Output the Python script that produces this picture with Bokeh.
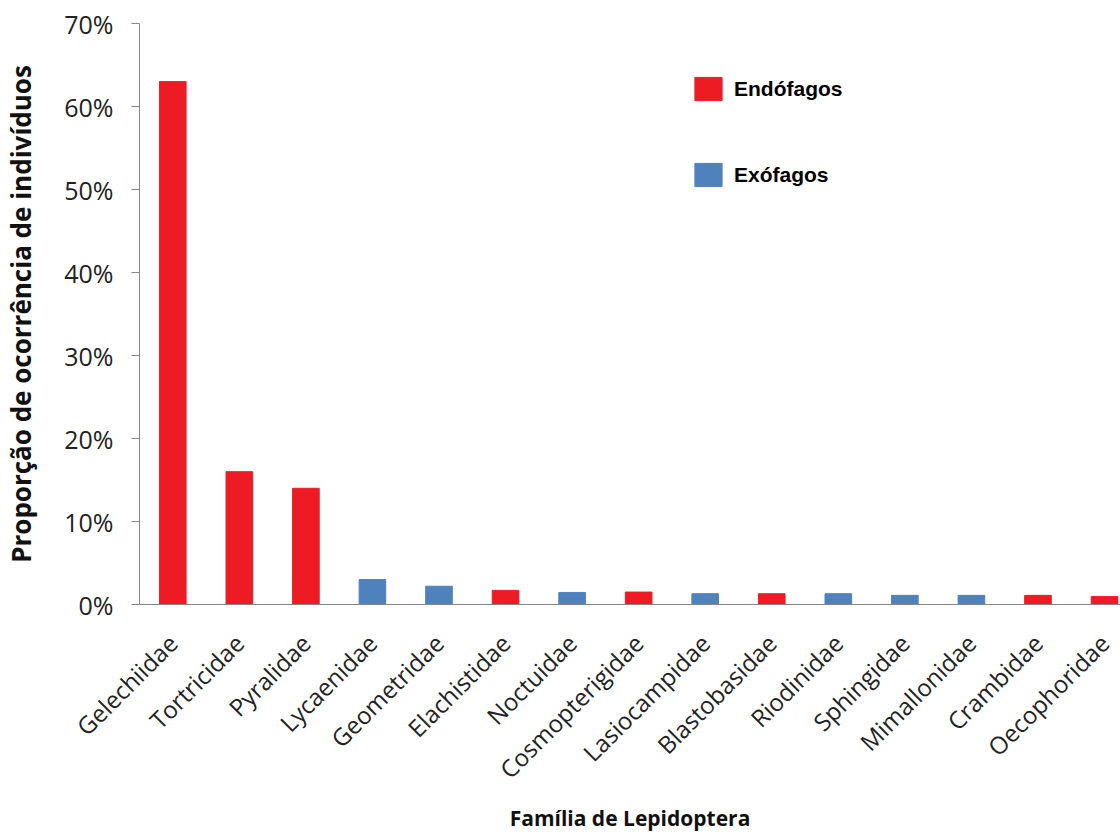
import math
from bokeh.plotting import figure
from bokeh.models import (ColumnDataSource, Range1d, FixedTicker, NumeralTickFormatter,
                          Legend, LegendItem)
from bokeh.embed import file_html
from bokeh.resources import INLINE

categories = ["Gelechiidae", "Tortricidae", "Pyralidae", "Lycaenidae", "Geometridae",
              "Elachistidae", "Noctuidae", "Cosmopterigidae", "Lasiocampidae",
              "Blastobasidae", "Riodinidae", "Sphingidae", "Mimallonidae",
              "Crambidae", "Oecophoridae"]
proportion = [0.630, 0.160, 0.140, 0.030, 0.022, 0.017, 0.0145, 0.015, 0.013,
              0.013, 0.013, 0.011, 0.011, 0.011, 0.0095]
feeding = ["Endófagos", "Endófagos", "Endófagos", "Exófagos", "Exófagos",
           "Endófagos", "Exófagos", "Endófagos", "Exófagos",
           "Endófagos", "Exófagos", "Exófagos", "Exófagos",
           "Endófagos", "Endófagos"]
y_ticks = [0.0, 0.1, 0.2, 0.3, 0.4, 0.5, 0.6, 0.7]

RED = "#ED1C24"
BLUE = "#4F81BD"

xs = list(range(len(categories)))

def subset(kind):
    idx = [i for i, f in enumerate(feeding) if f == kind]
    return ColumnDataSource(dict(x=[xs[i] for i in idx],
                                 top=[proportion[i] for i in idx]))

p = figure(width=1120, height=834, output_backend="svg", toolbar_location=None,
           x_range=Range1d(-0.5, 14.24), y_range=Range1d(0, 0.7),
           min_border_left=138, min_border_right=0, min_border_top=23,
           min_border_bottom=228)
p.outline_line_color = None
p.background_fill_color = "white"
p.border_fill_color = "white"
p.xgrid.grid_line_color = None
p.ygrid.grid_line_color = None

r_endo = p.vbar(x="x", top="top", width=0.4, source=subset("Endófagos"),
                fill_color=RED, line_color=RED)
r_exo = p.vbar(x="x", top="top", width=0.4, source=subset("Exófagos"),
               fill_color=BLUE, line_color=BLUE)

# y axis
p.yaxis.ticker = FixedTicker(ticks=y_ticks)
p.yaxis.formatter = NumeralTickFormatter(format="0%")
p.yaxis.axis_line_color = "#868686"
p.yaxis.major_tick_line_color = "#868686"
p.yaxis.major_tick_out = 8
p.yaxis.major_tick_in = 0
p.yaxis.minor_tick_line_color = None
p.yaxis.major_label_standoff = 18
p.yaxis.major_label_text_font = "Open Sans"
p.yaxis.major_label_text_font_size = "25px"
p.yaxis.major_label_text_color = "#222222"
p.yaxis.axis_label = "Proporção de ocorrência de indivíduos"
p.yaxis.axis_label_text_font = "Open Sans"
p.yaxis.axis_label_text_font_style = "bold"
p.yaxis.axis_label_text_font_size = "26px"
p.yaxis.axis_label_text_color = "#111111"
p.yaxis.axis_label_standoff = 22

# x axis
p.xaxis.ticker = FixedTicker(ticks=xs)
p.xaxis.major_label_overrides = {i: c for i, c in zip(xs, categories)}
p.xaxis.major_label_orientation = math.pi / 4
p.xaxis.axis_line_color = "#868686"
p.xaxis.major_tick_line_color = None
p.xaxis.minor_tick_line_color = None
p.xaxis.major_label_standoff = 28
p.xaxis.major_label_text_font = "Open Sans"
p.xaxis.major_label_text_font_size = "24px"
p.xaxis.major_label_text_color = "#222222"
p.xaxis.axis_label = "Família de Lepidoptera"
p.xaxis.axis_label_text_font = "Open Sans"
p.xaxis.axis_label_text_font_style = "bold"
p.xaxis.axis_label_text_font_size = "21px"
p.xaxis.axis_label_text_color = "#111111"
p.xaxis.axis_label_standoff = 4

legend = Legend(items=[LegendItem(label="Endófagos", renderers=[r_endo]),
                       LegendItem(label="Exófagos", renderers=[r_exo])],
                location=(552, 415), orientation="vertical",
                glyph_width=34, glyph_height=29, label_height=29,
                label_standoff=9, spacing=57, padding=0, margin=0,
                border_line_color=None, background_fill_alpha=0,
                label_text_font="Liberation Sans", label_text_font_style="bold",
                label_text_font_size="21px", label_text_color="#000000")
p.add_layout(legend, "center")

open("out.html", "w").write(file_html(p, INLINE))
